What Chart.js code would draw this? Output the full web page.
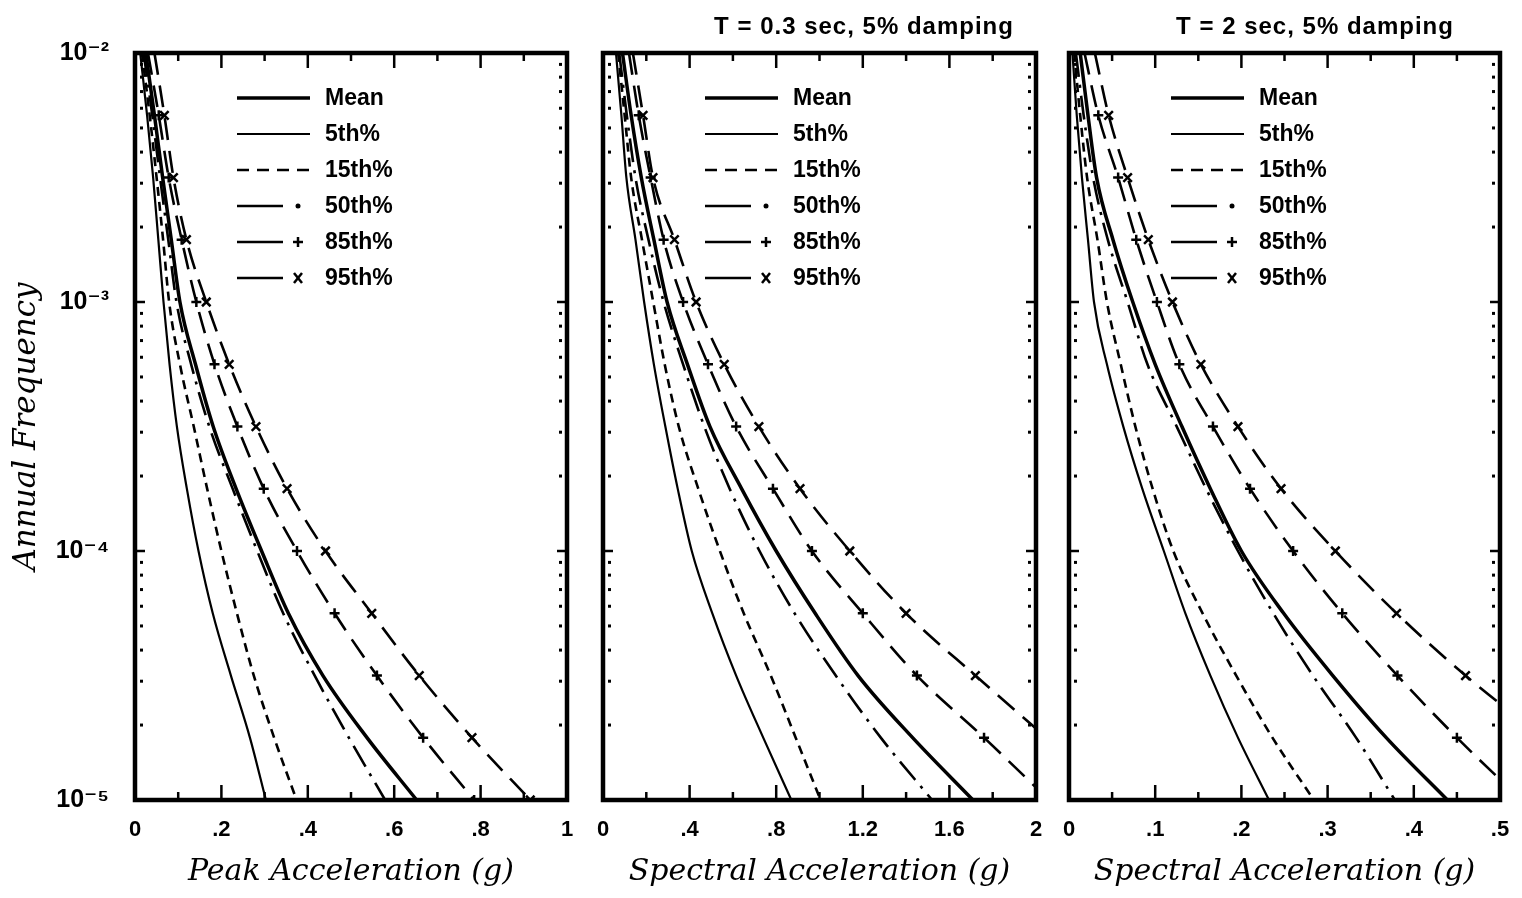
<!DOCTYPE html>
<html>
<head>
<meta charset="utf-8">
<script src="https://cdn.jsdelivr.net/npm/chart.js@4.4.0/dist/chart.umd.min.js"></script>
<style>
  body { margin: 0; background: #fff; }
  #wrap { position: relative; width: 1522px; height: 898px; overflow: hidden; }
  canvas { position: absolute; top: 0; }
</style>
</head>
<body>
<div id="wrap">
  <canvas id="c1" width="585" height="898" style="left:0px"></canvas>
  <canvas id="c2" width="467" height="898" style="left:585px"></canvas>
  <canvas id="c3" width="470" height="898" style="left:1052px"></canvas>
</div>
<script>
/* Annual frequency levels (every quarter decade, 1e-2 down to 1e-5) */
/////////////////////////////////////////////////////////////////
const freqLevels = [1e-2, 5.62e-3, 3.16e-3, 1.78e-3, 1e-3, 5.62e-4, 3.16e-4,
    1.78e-4, 1e-4, 5.62e-5, 3.16e-5, 1.78e-5, 1e-5];
const freqTickValues = [1e-5, 1e-4, 1e-3, 1e-2];
const freqTickLabels = ['10⁻⁵', '10⁻⁴', '10⁻³', '10⁻²'];
const seriesNames = ['Mean', '5th%', '15th%', '50th%', '85th%', '95th%'];

/* Peak acceleration (g) at each frequency level */
/////////////////////////////////////////////////////////////////
const pgaMean = [0.025, 0.045, 0.064, 0.084, 0.104, 0.140, 0.181, 0.234, 0.293, 0.355, 0.435, 0.537, 0.652];
const pga5    = [0.012, 0.028, 0.042, 0.054, 0.066, 0.080, 0.097, 0.120, 0.147, 0.180, 0.222, 0.266, 0.303];
const pga15   = [0.016, 0.034, 0.050, 0.065, 0.079, 0.104, 0.136, 0.167, 0.200, 0.236, 0.275, 0.322, 0.374];
const pga50   = [0.020, 0.040, 0.058, 0.077, 0.096, 0.130, 0.172, 0.226, 0.283, 0.343, 0.416, 0.495, 0.579];
const pga85   = [0.030, 0.055, 0.078, 0.108, 0.142, 0.184, 0.237, 0.298, 0.375, 0.462, 0.560, 0.667, 0.785];
const pga95   = [0.045, 0.068, 0.089, 0.119, 0.165, 0.218, 0.280, 0.352, 0.441, 0.548, 0.658, 0.780, 0.915];
const pgaTicks = ['0', '.2', '.4', '.6', '.8', '1'];

/* Spectral acceleration (g), T = 0.3 sec */
/////////////////////////////////////////////////////////////////
const sa03Mean = [0.090, 0.130, 0.177, 0.235, 0.296, 0.390, 0.494, 0.640, 0.800, 0.980, 1.178, 1.430, 1.709];
const sa03_5   = [0.060, 0.085, 0.108, 0.150, 0.190, 0.235, 0.288, 0.345, 0.410, 0.505, 0.615, 0.740, 0.870];
const sa03_15  = [0.070, 0.100, 0.130, 0.180, 0.232, 0.285, 0.350, 0.440, 0.540, 0.650, 0.775, 0.890, 1.005];
const sa03_50  = [0.075, 0.110, 0.150, 0.210, 0.280, 0.370, 0.468, 0.585, 0.723, 0.885, 1.075, 1.283, 1.520];
const sa03_85  = [0.120, 0.165, 0.220, 0.280, 0.370, 0.485, 0.615, 0.785, 0.965, 1.200, 1.450, 1.760, 2.060];
const sa03_95  = [0.138, 0.185, 0.231, 0.330, 0.430, 0.560, 0.720, 0.910, 1.140, 1.400, 1.720, 2.050, 2.400];
const sa03Ticks = ['0', '.4', '.8', '1.2', '1.6', '2'];

/* Spectral acceleration (g), T = 2 sec */
/////////////////////////////////////////////////////////////////
const sa2Mean = [0.013, 0.022, 0.032, 0.051, 0.074, 0.100, 0.131, 0.164, 0.200, 0.249, 0.306, 0.368, 0.439];
const sa2_5   = [0.004, 0.009, 0.015, 0.022, 0.029, 0.044, 0.063, 0.085, 0.110, 0.135, 0.164, 0.196, 0.232];
const sa2_15  = [0.006, 0.013, 0.021, 0.033, 0.044, 0.060, 0.077, 0.097, 0.121, 0.155, 0.194, 0.236, 0.284];
const sa2_50  = [0.008, 0.017, 0.028, 0.045, 0.068, 0.091, 0.125, 0.159, 0.196, 0.237, 0.283, 0.333, 0.378];
const sa2_85  = [0.018, 0.034, 0.057, 0.078, 0.102, 0.128, 0.167, 0.210, 0.260, 0.317, 0.381, 0.450, 0.525];
const sa2_95  = [0.030, 0.046, 0.068, 0.092, 0.120, 0.153, 0.196, 0.246, 0.309, 0.380, 0.460, 0.550, 0.640];
const sa2Ticks = ['0', '.1', '.2', '.3', '.4', '.5'];

/* Line looks for the six curves */
/////////////////////////////////////////////////////////////////
const curveStyles = [
    { width: 3.5, dash: [] },
    { width: 2.2, dash: [] },
    { width: 2.6, dash: [9, 6] },
    { width: 2.6, dash: [24, 8, 3, 8] },
    { width: 2.6, dash: [22, 11], point: 'cross', radius: 5 },
    { width: 2.6, dash: [22, 11], point: 'crossRot', radius: 6 }
];

const boldFont = 'Liberation Sans, DejaVu Sans, sans-serif';
const serifFont = 'DejaVu Serif, serif';

/**
 * Draws the frame, inside ticks, the legend and the panel title.
 */
/////////////////////////////////////////////////////////////////
const panelDecor = {
    id: 'panelDecor',
    afterDatasetsDraw(chart, args, opts) {
        const ctx = chart.ctx;
        const a = chart.chartArea;
        const xs = chart.scales.x, ys = chart.scales.y;
        ctx.save();
        ctx.strokeStyle = '#000';
        ctx.fillStyle = '#000';
        ctx.setLineDash([]);

        function seg(x1, y1, x2, y2) {
            ctx.beginPath(); ctx.moveTo(x1, y1); ctx.lineTo(x2, y2); ctx.stroke();
        }

        /* x ticks, top and bottom, pointing inside */
        ctx.lineWidth = 2.5;
        const n = Math.round(xs.max / opts.minorStep);
        for (let i = 1; i < n; i++) {
            const px = xs.getPixelForValue(i * opts.minorStep);
            const len = i % 2 === 0 ? 15 : 8;
            seg(px, a.bottom, px, a.bottom - len);
            seg(px, a.top, px, a.top + len);
        }

        /* y decade dashes and minor dots */
        for (let d = -5; d <= -2; d++) {
            const py = ys.getPixelForValue(Math.pow(10, d));
            seg(a.left, py, a.left + 10, py);
            seg(a.right - 10, py, a.right, py);
            if (d < -2) {
                for (let k = 2; k <= 9; k++) {
                    const pm = ys.getPixelForValue(k * Math.pow(10, d));
                    ctx.fillRect(a.left + 5, pm - 1.5, 3, 3);
                    ctx.fillRect(a.right - 8, pm - 1.5, 3, 3);
                }
            }
        }

        /* frame */
        ctx.lineWidth = 4.5;
        ctx.strokeRect(a.left, a.top, a.right - a.left, a.bottom - a.top);

        /* legend */
        ctx.font = 'bold 23px ' + boldFont;
        ctx.textBaseline = 'middle';
        ctx.textAlign = 'left';
        chart.data.datasets.forEach((ds, i) => {
            const y = a.top + 45 + i * 36;
            const x0 = a.left + 102;
            const st = curveStyles[i];
            ctx.lineWidth = st.width;
            if (i < 3) {
                ctx.setLineDash(i === 2 ? [12, 8] : []);
                seg(x0, y, x0 + 73, y);
            } else {
                ctx.setLineDash([]);
                seg(x0, y, x0 + 46, y);
                const mx = x0 + 61;
                ctx.lineWidth = 2.5;
                if (i === 3) {
                    ctx.beginPath(); ctx.arc(mx, y, 2.5, 0, Math.PI * 2); ctx.fill();
                } else if (i === 4) {
                    seg(mx - 5, y, mx + 5, y); seg(mx, y - 5, mx, y + 5);
                } else {
                    seg(mx - 4, y - 5, mx + 4, y + 5); seg(mx - 4, y + 5, mx + 4, y - 5);
                }
            }
            ctx.fillText(ds.label, a.left + 190, y + 1);
        });

        /* panel title */
        if (opts.title) {
            ctx.font = 'bold 24px ' + boldFont;
            ctx.textAlign = 'center';
            ctx.letterSpacing = '1px';
            ctx.fillText(opts.title, opts.titleX, 27);
        }
        ctx.restore();
    }
};

/**
 * Builds one panel.
 */
/////////////////////////////////////////////////////////////////
function makePanel(id, curves, xMax, xStep, xLabels, xTitle, pad, extra) {
    const datasets = curves.map((xv, i) => {
        const st = curveStyles[i];
        return {
            label: seriesNames[i],
            data: xv.map((v, j) => ({ x: v, y: freqLevels[j] })),
            borderColor: '#000',
            borderWidth: st.width,
            borderDash: st.dash,
            pointStyle: st.point || 'circle',
            pointRadius: st.point ? (c => c.dataIndex === 0 ? 0 : st.radius) : 0,
            pointBorderWidth: 2.5,
            pointBorderColor: '#000',
            pointBackgroundColor: '#000',
            cubicInterpolationMode: 'monotone',
            fill: false
        };
    });

    const showY = extra.showY;
    return new Chart(document.getElementById(id), {
        type: 'line',
        data: { datasets: datasets },
        plugins: [panelDecor],
        options: {
            responsive: false,
            animation: false,
            layout: { padding: { left: pad[0], right: pad[1], top: 53, bottom: 0 } },
            plugins: {
                legend: { display: false },
                tooltip: { enabled: false },
                panelDecor: { minorStep: xStep / 2, title: extra.title, titleX: extra.titleX }
            },
            scales: {
                x: {
                    type: 'linear',
                    min: 0,
                    max: xMax,
                    grid: { display: false },
                    border: { display: false },
                    ticks: {
                        stepSize: xStep,
                        padding: 9,
                        color: '#000',
                        font: { family: boldFont, weight: 'bold', size: 22 },
                        callback: (v, idx) => xLabels[idx]
                    },
                    title: {
                        display: true,
                        text: xTitle,
                        color: '#000',
                        padding: { top: 0, bottom: 8 },
                        font: { family: serifFont, style: 'italic', size: 30 }
                    },
                    afterFit: s => { s.height = 98; }
                },
                y: {
                    type: 'logarithmic',
                    min: 1e-5,
                    max: 1e-2,
                    display: showY,
                    grid: { display: false },
                    border: { display: false },
                    afterBuildTicks: s => { s.ticks = freqTickValues.map(v => ({ value: v })); },
                    ticks: {
                        padding: 18,
                        color: '#000',
                        font: { family: boldFont, weight: 'bold', size: 25 },
                        callback: (v, idx) => freqTickLabels[idx]
                    },
                    title: {
                        display: showY,
                        text: 'Annual Frequency',
                        color: '#000',
                        padding: { top: 8, bottom: 0 },
                        font: { family: serifFont, style: 'italic', size: 31 }
                    },
                    afterFit: s => { if (showY) s.width = 135; }
                }
            }
        }
    });
}
/////////////////////////////////////////////////////////////////
makePanel('c1', [pgaMean, pga5, pga15, pga50, pga85, pga95], 1, 0.2, pgaTicks,
    'Peak Acceleration (g)', [0, 18], { showY: true });
makePanel('c2', [sa03Mean, sa03_5, sa03_15, sa03_50, sa03_85, sa03_95], 2, 0.4, sa03Ticks,
    'Spectral Acceleration (g)', [18, 16], { showY: false, title: 'T = 0.3 sec, 5% damping', titleX: 279 });
makePanel('c3', [sa2Mean, sa2_5, sa2_15, sa2_50, sa2_85, sa2_95], 0.5, 0.1, sa2Ticks,
    'Spectral Acceleration (g)', [17, 22], { showY: false, title: 'T = 2 sec, 5% damping', titleX: 263 });
</script>
</body>
</html>
